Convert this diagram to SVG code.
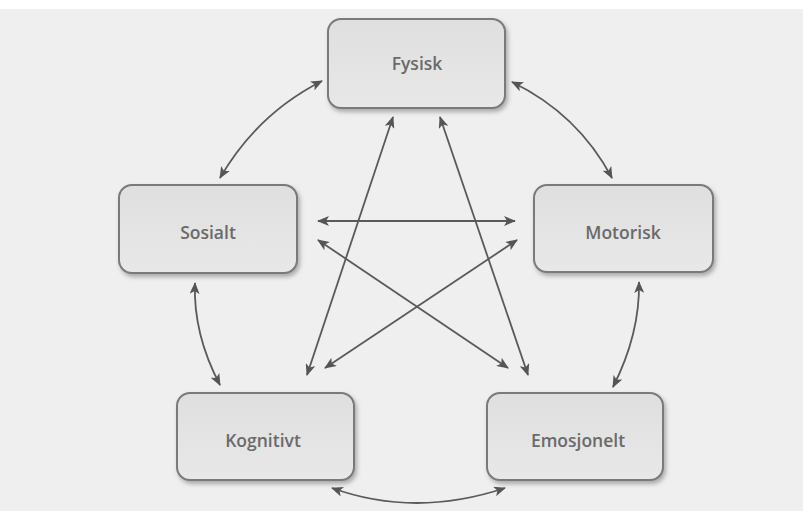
<svg xmlns="http://www.w3.org/2000/svg" width="803" height="511" viewBox="0 0 803 511">
  <defs>
    <linearGradient id="boxGrad" x1="0" y1="0" x2="0" y2="1">
      <stop offset="0" stop-color="#dfdfdf"/>
      <stop offset="1" stop-color="#e8e8e8"/>
    </linearGradient>
    <filter id="shadow" x="-10%" y="-10%" width="125%" height="130%">
      <feDropShadow dx="2" dy="3" stdDeviation="2" flood-color="#666" flood-opacity="0.5"/>
    </filter>
    <marker id="arr" viewBox="0 0 12 10" refX="11" refY="5" markerWidth="12" markerHeight="10" markerUnits="userSpaceOnUse" orient="auto-start-reverse">
      <path d="M0,0 L12,5 L0,10 L3,5 Z" fill="#555"/>
    </marker>
  </defs>
  <style>
    .box { fill: url(#boxGrad); stroke: #7a7a7a; stroke-width: 2; filter: url(#shadow); }
    .lbl { font-family: "Open Sans", "Liberation Sans", sans-serif; font-weight: 600; font-size: 17.5px; fill: #6a6a6a; text-anchor: middle; dominant-baseline: central; }
    .con { fill: none; stroke: #5a5a5a; stroke-width: 1.8; marker-start: url(#arr); marker-end: url(#arr); }
  </style>
  <rect x="0" y="0" width="803" height="511" fill="#efefef"/>
  <rect x="0" y="0" width="803" height="9" fill="#ffffff"/>

  <g id="connectors">
    <path class="con" d="M322,81 Q257,114 220,178"/>
    <path class="con" d="M512,82 Q578,114 612,178"/>
    <path class="con" d="M195,283 Q193,334 220,385"/>
    <path class="con" d="M639,282 Q640,334 613,387"/>
    <path class="con" d="M332,488 Q415,518 505,488"/>
    <path class="con" d="M318,221 L515,221"/>
    <path class="con" d="M318,240 L508,368"/>
    <path class="con" d="M517,240 L325,368"/>
    <path class="con" d="M393,117 L307,375"/>
    <path class="con" d="M440,117 L528,375"/>
  </g>

  <g id="fysisk">
    <rect class="box" x="328" y="19" width="177" height="89" rx="13"/>
    <text class="lbl" x="417" y="63">Fysisk</text>
  </g>
  <g id="sosialt">
    <rect class="box" x="119" y="185" width="178" height="88" rx="13"/>
    <text class="lbl" x="208" y="232">Sosialt</text>
  </g>
  <g id="motorisk">
    <rect class="box" x="534" y="185" width="179" height="87" rx="13"/>
    <text class="lbl" x="623" y="232">Motorisk</text>
  </g>
  <g id="kognitivt">
    <rect class="box" x="177" y="393" width="177" height="87" rx="13"/>
    <text class="lbl" x="263" y="440">Kognitivt</text>
  </g>
  <g id="emosjonelt">
    <rect class="box" x="487" y="393" width="176" height="87" rx="13"/>
    <text class="lbl" x="578" y="440">Emosjonelt</text>
  </g>
</svg>
